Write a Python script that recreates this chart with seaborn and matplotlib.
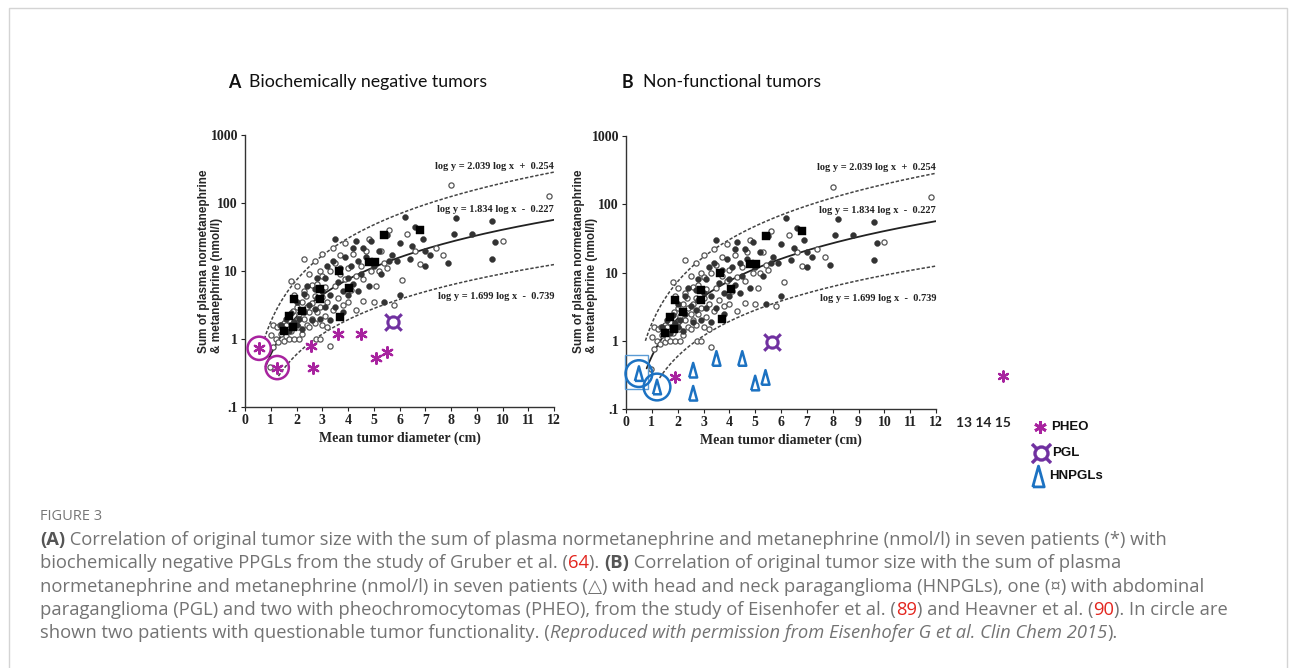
import numpy as np
import pandas as pd
import matplotlib
matplotlib.use("Agg")
import matplotlib.pyplot as plt
import seaborn as sns
from matplotlib.lines import Line2D
from matplotlib.patches import Rectangle

# ---- data ----
open_x = [0.97, 1.0, 1.1, 1.1, 1.2, 1.25, 1.3, 1.35, 1.4, 1.5, 1.5, 1.6, 1.6, 1.7, 1.7, 1.8, 1.8, 1.85,
          1.9, 1.9, 2.0, 2.0, 2.0, 2.05, 2.1, 2.1, 2.2, 2.2, 2.3, 2.3, 2.3, 2.35, 2.4, 2.4, 2.5, 2.5,
          2.5, 2.6, 2.6, 2.6, 2.7, 2.7, 2.7, 2.75, 2.8, 2.8, 2.9, 2.9, 2.9, 3.0, 3.0, 3.0, 3.0, 3.1,
          3.1, 3.2, 3.2, 3.3, 3.3, 3.4, 3.4, 3.5, 3.5, 3.6, 3.7, 3.7, 3.8, 3.9, 3.9, 4.0, 4.0, 4.1,
          4.2, 4.3, 4.3, 4.5, 4.6, 4.6, 4.7, 4.8, 4.9, 5.0, 5.1, 5.2, 5.3, 5.4, 5.5, 5.6, 5.8, 6.1,
          6.3, 6.6, 6.8, 7.4, 7.7, 8.0, 10.0, 11.8]
open_y = [0.39, 1.15, 1.6, 0.75, 1.0, 1.5, 0.9, 1.6, 1.2, 1.7, 0.95, 1.1, 1.6, 1.9, 1.0, 7.2, 1.3, 2.6,
          1.0, 4.5, 6.0, 3.0, 1.9, 1.5, 2.3, 1.0, 3.5, 1.2, 15, 5.0, 2.0, 4.3, 1.6, 3.0, 9.0, 2.5,
          1.5, 6.2, 3.4, 2.0, 14, 4.3, 1.7, 1.0, 2.5, 6.5, 10, 1.0, 3.0, 18, 8.5, 4.2, 1.6, 5.8,
          2.2, 3.5, 1.5, 0.8, 10, 22, 2.7, 6.0, 13, 4.0, 17, 9.0, 3.2, 7.5, 26, 11, 3.5, 5.3,
          18, 8.5, 2.7, 12, 3.6, 7.5, 20, 30, 10, 3.5, 6.0, 10, 20, 13, 11, 40, 3.2, 7.3,
          35, 20, 12.5, 22, 17, 182, 28, 128]

filled_x = [1.4, 1.5, 1.6, 1.7, 1.8, 1.9, 2.0, 2.0, 2.1, 2.2, 2.3, 2.3, 2.4, 2.5, 2.6, 2.7, 2.7, 2.8,
            2.8, 2.9, 3.0, 3.1, 3.1, 3.2, 3.3, 3.3, 3.4, 3.5, 3.5, 3.6, 3.7, 3.8, 3.8, 3.9, 4.0, 4.0,
            4.1, 4.2, 4.2, 4.3, 4.4, 4.4, 4.5, 4.6, 4.7, 4.8, 4.9, 5.0, 5.2, 5.3, 5.4, 5.5, 5.6, 5.7,
            5.9, 6.0, 6.0, 6.2, 6.4, 6.5, 6.6, 6.9, 7.0, 7.0, 7.2, 7.9, 8.1, 8.2, 8.8, 9.6, 9.6, 9.7]
filled_y = [1.6, 1.4, 2.0, 1.3, 2.4, 1.8, 1.6, 3.5, 2.0, 1.4, 4.6, 2.5, 6.0, 3.2, 1.9, 5.5, 2.8, 4.0,
            8.0, 2.0, 5.0, 3.0, 8.0, 12, 1.9, 4.5, 14, 30, 3.0, 7.0, 11, 5.0, 2.5, 16, 8.0, 4.5,
            12, 22, 6.5, 28, 14, 5.0, 9.0, 22, 16, 6.0, 28, 12, 20, 9.0, 3.5, 34, 14, 17,
            14, 26, 4.5, 62, 15, 23, 45, 30, 12, 20, 17, 13, 35, 60, 35, 55, 15, 27]

square_x = [1.5, 1.7, 1.85, 1.9, 2.2, 2.9, 2.9, 3.65, 3.7, 4.05, 4.8, 5.05, 5.4, 6.8]
square_y = [1.3, 2.2, 1.5, 3.9, 2.6, 3.9, 5.5, 10, 2.1, 5.7, 13.5, 13.5, 34, 40]

# regression lines printed on the chart
line_slope = [2.039, 1.834, 1.699]
line_icept = [0.254, -0.227, -0.739]
line_x0 = [0.75, 0.8, 1.3]
line_label = ["log y = 2.039 log x  +  0.254", "log y = 1.834 log x  -  0.227",
              "log y = 1.699 log x  -  0.739"]
line_label_y = [340, 80, 4.2]

# panel A: biochemically negative PHEO (*) and PGL
a_pheo_x = [0.55, 1.25, 2.55, 2.65, 3.6, 4.5, 5.1, 5.5]
a_pheo_y = [0.73, 0.38, 0.8, 0.38, 1.18, 1.2, 0.52, 0.65]
a_pgl_x, a_pgl_y = [5.75], [1.8]
a_circ_x, a_circ_y = [0.55, 1.25], [0.73, 0.38]

# panel B: non-functional tumors
b_hn_x = [0.5, 1.2, 2.6, 2.6, 3.5, 4.5, 5.0, 5.4]
b_hn_y = [0.33, 0.21, 0.37, 0.17, 0.55, 0.55, 0.24, 0.29]
b_pheo_x = [1.9, 14.6]
b_pheo_y = [0.29, 0.30]
b_pgl_x, b_pgl_y = [5.65], [0.96]
b_circ_x, b_circ_y = [0.5, 1.2], [0.33, 0.21]

xticks = list(range(0, 13))
yticks = [0.1, 1, 10, 100, 1000]
ytick_labels = [".1", "1", "10", "100", "1000"]
ylabel_lines = ["Sum of plasma normetanephrine", "& metanephrine (nmol/l)"]

MAG = "#a8239f"
PUR = "#7030a0"
BLUE = "#1c72c2"
SERIF = "Liberation Serif"
ARIAL = "Liberation Sans"
TRI = [(-0.55, -1), (0.55, -1), (0, 1), (-0.55, -1)]
STAR = (6, 2, 0)

sns.set_style("ticks")
plt.rcParams["font.family"] = ["DejaVu Sans"]

W, H = 1295, 668
fig = plt.figure(figsize=(W / 100, H / 100), dpi=100)


def fx(px):
    return px / W


def fy(py):
    return 1 - py / H


bg = pd.concat([
    pd.DataFrame({"x": open_x, "y": open_y, "kind": "open"}),
    pd.DataFrame({"x": filled_x, "y": filled_y, "kind": "filled"}),
    pd.DataFrame({"x": square_x, "y": square_y, "kind": "square"}),
])


def base_panel(ax, ylabel_xs):
    d = bg[bg.kind == "open"]
    sns.scatterplot(x=d.x, y=d.y, ax=ax, s=14, facecolor="white", edgecolor="#555555",
                    linewidth=0.9, marker="o", zorder=3)
    d = bg[bg.kind == "filled"]
    sns.scatterplot(x=d.x, y=d.y, ax=ax, s=18, color="#333333", edgecolor="#333333",
                    linewidth=0.3, marker="o", zorder=3)
    d = bg[bg.kind == "square"]
    sns.scatterplot(x=d.x, y=d.y, ax=ax, s=28, color="black", edgecolor="black",
                    linewidth=0.3, marker="s", zorder=4)
    for k in range(3):
        xs = np.linspace(line_x0[k], 12, 200)
        ys = 10 ** (line_slope[k] * np.log10(xs) + line_icept[k])
        ls = "-" if k == 1 else (0, (2.2, 1.2))
        lw = 1.3 if k == 1 else 1.1
        ax.plot(xs, ys, color="#222222" if k == 1 else "#444444", ls=ls, lw=lw, zorder=2)
        ax.text(12, line_label_y[k], line_label[k], ha="right", va="center", family=SERIF,
                fontweight="bold", fontsize=7.5, color="#222222", zorder=5)
    ax.set_yscale("log")
    ax.set_xlim(0, 12)
    ax.set_ylim(0.1, 1000)
    ax.set_xticks(xticks)
    ax.set_xticklabels([str(t) for t in xticks], family=SERIF, fontweight="bold", fontsize=10)
    ax.set_yticks(yticks)
    ax.set_yticklabels(ytick_labels, family=SERIF, fontweight="bold", fontsize=10)
    ax.minorticks_off()
    ax.tick_params(length=3, width=0.8, pad=2, colors="#222222")
    ax.set_xlabel("Mean tumor diameter (cm)", family=SERIF, fontweight="bold", fontsize=10,
                  labelpad=3)
    ax.set_ylabel("")
    sns.despine(ax=ax)
    for s in ("left", "bottom"):
        ax.spines[s].set_linewidth(1.0)
        ax.spines[s].set_color("#333333")
    # two rotated label lines, both starting at the same bottom point
    for lx, line in zip(ylabel_xs, ylabel_lines):
        fig.text(fx(lx), fy(353), line, rotation=90, ha="center", va="bottom", family=ARIAL,
                 fontweight="bold", fontsize=8.5)


axA = fig.add_axes([fx(245), fy(407), fx(554 - 245), (407 - 135) / H])
axB = fig.add_axes([fx(626), fy(409), fx(936 - 626), (409 - 136) / H])
base_panel(axA, [204, 217])
base_panel(axB, [579, 592])

# panel A markers
axA.scatter(a_pheo_x, a_pheo_y, marker=STAR, s=60, color=MAG, linewidth=1.6, zorder=6)
axA.scatter(a_pgl_x, a_pgl_y, marker="$¤$", s=170, color=PUR, linewidth=0.3, zorder=6)
axA.scatter(a_circ_x, a_circ_y, marker="o", s=280, facecolor="none", edgecolor=MAG,
            linewidth=1.8, zorder=6, clip_on=False)

# panel B markers
axB.scatter(b_hn_x, b_hn_y, marker=TRI, s=110, facecolor="none", edgecolor=BLUE,
            linewidth=1.8, zorder=6, clip_on=False)
axB.scatter(b_pheo_x, b_pheo_y, marker=STAR, s=55, color=MAG, linewidth=1.6, zorder=6,
            clip_on=False)
axB.scatter(b_pgl_x, b_pgl_y, marker="$¤$", s=170, color=PUR, linewidth=0.3, zorder=6)
axB.scatter(b_circ_x, b_circ_y, marker="o", s=370, facecolor="none", edgecolor=BLUE,
            linewidth=1.8, zorder=6, clip_on=False)
axB.add_patch(Rectangle((-0.05, 0.195), 0.92, 0.61 - 0.195, fill=False, edgecolor="#5b9bd5",
                        linewidth=1.0, zorder=5, clip_on=False))

fig.text(fx(983), fy(423), "13 14 15", ha="center", va="center", family="Lato",
         fontweight="bold", fontsize=10, color="#222222")

# legend
leg_items = [("PHEO", STAR, MAG, 1051, 427, 9),
             ("PGL", "$¤$", PUR, 1052, 453, 15),
             ("HNPGLs", TRI, BLUE, 1049, 476, 15)]
for lab, mk, col, tx, ty, ms in leg_items:
    mfc = "none" if lab == "HNPGLs" else col
    fig.add_artist(Line2D([fx(tx - 11)], [fy(ty)], marker=mk, markersize=ms, color=col,
                          markerfacecolor=mfc, markeredgewidth=2.0 if lab != "PGL" else 0.3,
                          transform=fig.transFigure))
    fig.text(fx(tx), fy(ty), lab, ha="left", va="center", family=ARIAL, fontweight="bold",
             fontsize=9.5, color="#111111")

renderer = fig.canvas.get_renderer()


def seg_width(txt, kw):
    a = fig.text(0, 0, "x" + txt + "x", **kw)
    b = fig.text(0, 0, "xx", **kw)
    w = a.get_window_extent(renderer).width - b.get_window_extent(renderer).width
    a.remove()
    b.remove()
    return w


def rich_line(x_px, y_px, parts, base):
    x = x_px
    for txt, extra in parts:
        kw = dict(base)
        kw.update(extra)
        fig.text(fx(x), fy(y_px), txt, ha="left", va="center", **kw)
        x += seg_width(txt, kw)


# panel titles
tbase = dict(family=["Lato", "DejaVu Sans"], fontsize=12.8, color="#111111")
rich_line(228, 82, [("A", {"fontweight": "bold"}), ("  Biochemically negative tumors", {})], tbase)
rich_line(622, 82, [("B", {"fontweight": "bold"}), ("  Non-functional tumors", {})], tbase)

# caption
cbase = dict(family=["Open Sans", "DejaVu Sans"], fontsize=13.2, color="#737373")
B_ = {"fontweight": "bold", "color": "#555555"}
R_ = {"color": "#e3261f"}
I_ = {"style": "italic"}
fig.text(fx(40), fy(516), "FIGURE 3", ha="left", va="center", family=["Open Sans"],
         fontsize=10.5, color="#777777")
caption = [
    [("(A)", B_), (" Correlation of original tumor size with the sum of plasma normetanephrine and "
                   "metanephrine (nmol/l) in seven patients (*) with", {})],
    [("biochemically negative PPGLs from the study of Gruber et al. (", {}), ("64", R_),
     ("). ", {}), ("(B)", B_), (" Correlation of original tumor size with the sum of plasma", {})],
    [("normetanephrine and metanephrine (nmol/l) in seven patients (\u25b3) with head and neck "
      "paraganglioma (HNPGLs), one (\u00a4) with abdominal", {})],
    [("paraganglioma (PGL) and two with pheochromocytomas (PHEO), from the study of Eisenhofer "
      "et al. (", {}), ("89", R_), (") and Heavner et al. (", {}), ("90", R_),
     ("). In circle are", {})],
    [("shown two patients with questionable tumor functionality. (", {}),
     ("Reproduced with permission from Eisenhofer G et al. Clin Chem 2015", I_), (").", {})],
]
for i, parts in enumerate(caption):
    rich_line(40, 540 + i * 23.3, parts, cbase)

fig.add_artist(Rectangle((fx(9), fy(700)), fx(1287 - 9), (700 - 8) / H, fill=False,
                         edgecolor="#d4d4d4", linewidth=1.0, transform=fig.transFigure))

fig.savefig("out.png", dpi=100)
